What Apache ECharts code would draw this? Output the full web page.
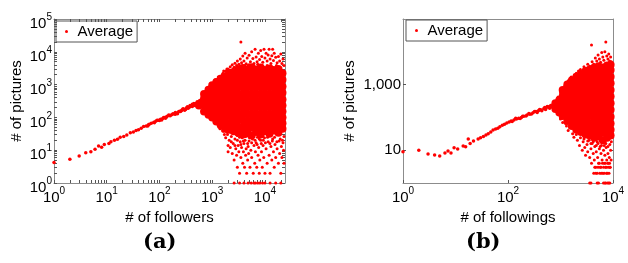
<!DOCTYPE html>
<html>
<head>
<meta charset="utf-8">
<script src="https://cdn.jsdelivr.net/npm/echarts@6/dist/echarts.min.js"></script>
<style>
  html, body { margin: 0; padding: 0; background: #fff; }
  #main { width: 628px; height: 263px; }
</style>
</head>
<body>
<div id="main"></div>
<script>
// (a) # of followers vs # of pictures
var followerTicks = [1, 10, 100, 1000, 10000];
var pictureTicksA = [1, 10, 100, 1000, 10000, 100000];
// (b) # of followings vs # of pictures
var followingTicks = [1, 100, 10000];
var pictureTicksB = [10, 1000];

// thin diagonal band, panel (a)
var followersTrend = [
  [1,4.2],[2,5.3],[3,6.6],[4,8.4],[5,9],[6,10.6],[7,13.4],[8,12.2],[9,15],[11,16],[12,18],[14,20],[16,21.5],
  [18,25],[21,26],[24,29],[28,34],[32,36],[36,40],[40,42],[45,47],[50,53],[56,55],[60,55],[62,60],[64,62],
  [70,66],[78,71],[80,69],[85,76],[90,82],[95,82],[100,80],[105,88],[115,92],[120,100],[125,99],[130,95],
  [140,108],[150,118],[155,115],[170,121],[180,130],[190,127],[200,125],[210,135],[230,148],[240,155],
  [260,160],[270,170],[290,176],[300,165],[320,185],[330,200],[360,200],[380,210],[400,225],[420,250],
  [450,240],[470,230],[500,270],[520,300],[560,290],[600,260],[610,340],[650,330],
  [110,84],[135,102],[160,112],[200,140],[220,130],[250,150],[280,185],[310,175],[340,210],[350,190],
  [380,230],[420,215],[450,265],[480,250],[520,240],[540,280],[580,320],[620,300]
];
// solid body of the cloud, panel (a)
var followersCore = [
  [560,230],[620,280],
  [700,150],[700,240],[700,380],[700,520],
  [850,120],[850,190],[850,300],[850,470],[850,700],
  [1000,100],[1000,160],[1000,250],[1000,400],[1000,640],[1000,950],
  [1200,75],[1200,120],[1200,190],[1200,300],[1200,480],[1200,760],[1200,1200],
  [1450,58],[1450,92],[1450,145],[1450,230],[1450,370],[1450,590],[1450,940],[1450,1500],
  [1750,45],[1750,72],[1750,115],[1750,180],[1750,290],[1750,460],[1750,730],[1750,1150],[1750,1800],
  [2100,42],[2100,68],[2100,110],[2100,175],[2100,280],[2100,450],[2100,700],[2100,1100],[2100,1700],[2100,2300],
  [2550,38],[2550,58],[2550,92],[2550,150],[2550,240],[2550,380],[2550,600],[2550,950],[2550,1500],[2550,2400],
  [3100,34],[3100,52],[3100,85],[3100,135],[3100,215],[3100,340],[3100,540],[3100,860],[3100,1350],[3100,2100],[3100,2900],
  [3800,30],[3800,50],[3800,80],[3800,128],[3800,205],[3800,330],[3800,520],[3800,830],[3800,1300],[3800,2050],[3800,3200],
  [4600,34],[4600,52],[4600,78],[4600,125],[4600,200],[4600,320],[4600,510],[4600,810],[4600,1280],[4600,2000],[4600,2900],
  [5600,28],[5600,48],[5600,80],[5600,128],[5600,205],[5600,330],[5600,520],[5600,830],[5600,1300],[5600,2050],[5600,3400],
  [6800,36],[6800,55],[6800,85],[6800,125],[6800,200],[6800,320],[6800,510],[6800,810],[6800,1280],[6800,2000],[6800,2900],
  [8300,30],[8300,50],[8300,80],[8300,128],[8300,205],[8300,330],[8300,520],[8300,830],[8300,1300],[8300,2050],[8300,3300],
  [10000,38],[10000,56],[10000,85],[10000,125],[10000,200],[10000,320],[10000,510],[10000,810],[10000,1280],[10000,2000],[10000,2800],
  [12200,32],[12200,50],[12200,80],[12200,128],[12200,205],[12200,330],[12200,520],[12200,830],[12200,1300],[12200,2050],[12200,3100],
  [14800,40],[14800,60],[14800,90],[14800,125],[14800,200],[14800,320],[14800,510],[14800,810],[14800,1280],[14800,2000],[14800,2800],
  [18000,34],[18000,52],[18000,85],[18000,135],[18000,215],[18000,340],[18000,540],[18000,860],[18000,1350],[18000,2100],[18000,3000],
  [21500,45],[21500,66],[21500,100],[21500,150],[21500,230],[21500,350],[21500,560],[21500,880],[21500,1400],[21500,2200]
];
// scattered fringe points, panel (a)
var followersSpread = [
  [550,300],[650,350],[700,200],[750,430],[800,170],[800,560],[900,140],[950,600],[1050,130],[1100,700],[1150,150],
  [650,160],[750,620],[800,110],[900,850],[950,90],[1050,1100],[1100,70],[1150,1400],[1300,60],[1300,1700],[1400,45],
  [1550,2000],[1600,38],[1650,2600],[1900,3000],[1950,30],
  [900,700],[1000,900],[1100,1100],[1200,1000],[1300,1400],[1400,1800],[1500,1500],[1600,2200],[1700,2000],[1800,2600],
  [1900,2300],[2000,3000],[2100,2600],[2200,3500],[2300,2800],[2400,4000],[2600,3400],[2700,4500],[2900,3800],[3000,5200],
  [3200,4200],[3400,6000],[3500,20000],[3600,4600],[3800,7500],[4000,5200],[4200,9000],[4400,4300],[4600,6500],[4800,3900],
  [5000,7800],[5300,5000],[5600,10000],[5900,6200],[6200,4400],[6500,12000],[6800,7000],[7100,5000],[7500,9000],[7900,5800],
  [8300,11000],[8700,7200],[9100,4800],[9600,12000],[10000,6500],[10500,9000],[11000,5200],[11500,8000],[12000,12000],
  [12500,6000],[13000,4400],[13500,7600],[14000,12000],[14500,5400],[15000,9000],[16000,6800],[17000,4600],[18000,7200],
  [19000,5200],[20000,8600],[21000,4400],[22000,6000],[23000,3800],
  [2500,3000],[3300,3600],[4100,3800],[5000,4000],[6000,3700],[7300,4200],[9000,3600],[11000,3800],[13500,3500],[16500,3800],[20000,3200],
  [1000,120],[1100,95],[1200,75],[1300,80],[1400,55],[1500,60],[1600,40],[1700,30],[1800,24],[1900,35],[2000,14],[2000,9],
  [2100,20],[2200,12],[2300,26],[2400,8],[2500,16],[2600,5],[2700,22],[2800,11],[2900,7],[3000,28],[3000,3],[3100,14],
  [3200,9],[3300,2],[3400,18],[3500,6],[3600,12],[3700,24],[3800,4],[3900,9],[4000,16],[4100,3],[4200,20],[4300,7],
  [4400,11],[4500,2],[4600,27],[4700,5],[4800,13],[4900,8],[5000,19],[5200,3],[5400,10],[5600,6],[5800,22],[6000,2],
  [6200,14],[6400,4],[6600,9],[6800,17],[7000,3],[7200,25],[7400,7],[7600,12],[7800,2],[8000,5],[8300,20],[8600,9],
  [8900,3],[9200,14],[9500,6],[9800,24],[10000,2],[10500,11],[11000,4],[11500,18],[12000,7],[12500,2],[13000,13],
  [13500,5],[14000,22],[14500,9],[15000,3],[15500,15],[16000,6],[17000,11],[18000,4],[18500,19],[19000,8],[20000,2],
  [20500,13],[21000,6],[22000,17],[22500,10],[23000,4],
  [2300,18],[2700,14],[3000,20],[3300,25],[3500,15],[3900,19],[4300,26],[4700,16],[5100,24],[5600,17],[6100,26],
  [6500,20],[7100,15],[7800,22],[8500,16],[9300,20],[10200,17],[11200,25],[12400,16],[13800,19],[15200,25],[16800,18],
  [19500,22],[21500,20],[23000,26],
  [2600,1],[3300,1],[4000,1],[4800,1],[5500,1],[6200,1],[6600,1],[7300,1],[8000,1],[9000,1],[10000,1],[12500,1],[16000,1],[20000,1]
];

// thin diagonal band, panel (b)
var followingsTrend = [
  [1,9],[2,10],[3,7.6],[4,7.1],[5,6.7],[6.3,8.2],[7.2,9.4],[8.2,8.2],[9.4,11.9],[11,10.8],[14,13.4],[15.6,12.8],
  [17.5,22],[19,16],[22,19],[27,22],[30,24],[34,26],[38,29],[42,32],[47,36],[52,41],[58,44],[64,47],[70,52],
  [78,58],[86,62],[95,68],[105,72],[115,78],[130,84],[145,90],[160,94],[180,100],[200,108],[230,118],[260,125],
  [300,138],[340,150],[380,160],[420,170],[480,185],[540,200],[600,210],
  [120,75],[140,95],[170,92],[190,108],[220,110],[250,132],[280,128],[320,150],[360,140],[400,175],[440,160],
  [500,200],[520,175],[560,215],[620,190],[650,230],[700,205],[720,245],[760,220],[800,260],[850,230]
];
// solid body of the cloud, panel (b)
var followingsCore = [
  [800,180],[800,270],
  [950,140],[950,220],[950,340],
  [1100,110],[1100,175],[1100,280],[1100,440],[1100,680],
  [1350,78],[1350,125],[1350,195],[1350,300],[1350,480],[1350,760],[1350,1000],
  [1650,55],[1650,90],[1650,145],[1650,230],[1650,370],[1650,590],[1650,940],[1650,1350],
  [2000,42],[2000,68],[2000,110],[2000,175],[2000,280],[2000,450],[2000,720],[2000,1150],[2000,1700],
  [2450,36],[2450,56],[2450,90],[2450,145],[2450,230],[2450,370],[2450,590],[2450,940],[2450,1500],[2450,2100],
  [3000,30],[3000,48],[3000,78],[3000,125],[3000,200],[3000,320],[3000,510],[3000,810],[3000,1300],[3000,2000],[3000,2600],
  [3600,28],[3600,44],[3600,68],[3600,110],[3600,175],[3600,280],[3600,450],[3600,720],[3600,1150],[3600,1800],[3600,2900],
  [4400,24],[4400,38],[4400,62],[4400,100],[4400,160],[4400,255],[4400,410],[4400,650],[4400,1050],[4400,1650],[4400,2500],[4400,3300],
  [5300,26],[5300,40],[5300,58],[5300,92],[5300,148],[5300,235],[5300,380],[5300,600],[5300,960],[5300,1500],[5300,2400],[5300,3600],
  [6400,20],[6400,34],[6400,55],[6400,88],[6400,140],[6400,225],[6400,360],[6400,580],[6400,920],[6400,1450],[6400,2300],[6400,3300],
  [7700,24],[7700,38],[7700,58],[7700,92],[7700,148],[7700,235],[7700,380],[7700,600],[7700,960],[7700,1500],[7700,2400],[7700,3800],
  [9000,28],[9000,42],[9000,65],[9000,105],[9000,170],[9000,270],[9000,430],[9000,690],[9000,1100],[9000,1750],[9000,2800],[9000,4000]
];
// scattered fringe points, panel (b)
var followingsSpread = [
  [900,420],[1000,560],[1000,95],[1200,900],[1250,65],[1400,1300],[1500,1150],[1600,1700],[1800,1500],[1850,2000],
  [2000,2200],[2200,2000],[2200,2600],[2400,2900],[2600,2500],[2800,3500],[3000,3000],
  [3300,4200],[3600,3600],[3900,16000],[4000,5000],[4300,4200],[4600,6500],[4900,5200],[5200,8000],[5500,6000],[5800,4800],
  [6100,9500],[6400,7000],[6700,5500],[7000,10000],[7300,20000],[7600,7500],[8000,6000],[8300,8500],[8600,5200],[9000,7000],[9300,5000],
  [1000,90],[1100,70],[1300,55],[1400,40],[1500,48],[1700,32],[1800,25],[2000,30],[2100,20],[2300,14],[2400,24],[2600,10],
  [2700,18],[2900,12],[3000,7],[3200,15],[3300,9],[3500,20],[3600,6],[3800,11],[3900,4],[4000,16],[4200,8],[4400,5],
  [4500,13],[4700,3],[4800,9],[5000,18],[5100,6],[5300,4],[5500,11],[5700,3],[5900,8],[6000,14],[6200,5],[6400,2],
  [6600,10],[6800,4],[7000,7],[7200,3],[7400,12],[7600,5],[7800,2],[8000,8],[8200,4],[8500,6],[8800,3],[9000,10],[9200,5],
  [2800,22],[3300,19],[3800,16],[4200,18],[4800,14],[5200,16],[5700,13],[6200,17],[6800,14],[7300,16],[8000,13],[8700,15],[9300,18],
  [4300,2],[4700,2],[5000,2],[5600,2],[6000,2],[6800,2],[7500,2],[8400,2],
  [4500,3],[5200,3],[5900,3],[6600,3],[7400,3],[8100,3],[8800,3],
  [5500,4],[6300,4],[7100,4],[7900,4],[8600,4],
  [3600,1],[3800,1],[5000,1],[5300,1],[6600,1],[7000,1],[7300,1],[7900,1],[8300,1],[8700,1]
];

var FONT = 'Liberation Sans';
var RED = '#ff0000';
var FRAME = '#8c8c8c';

function minorTicks(lo, hi) {
  var out = [];
  for (var k = 0; k <= 5; k++) {
    for (var m = 1; m <= 9; m++) {
      var v = m * Math.pow(10, k);
      if (v >= lo && v <= hi) out.push(v);
    }
  }
  return out;
}

function powLabel(v) {
  return '{b|10}{s|' + Math.round(Math.log10(v)) + '}';
}

// base digits low in a tall line, exponent pinned to its top
var powRich = {
  b: { fontSize: 15, fontFamily: FONT, color: '#000', lineHeight: 19, verticalAlign: 'bottom' },
  s: { fontSize: 10, fontFamily: FONT, color: '#000', lineHeight: 10, verticalAlign: 'top' }
};

function logAxis(opt) {
  return Object.assign({
    type: 'log',
    logBase: 10,
    axisLine: { show: true, lineStyle: { color: FRAME, width: 1 } },
    axisTick: { show: true, inside: true, length: 3, lineStyle: { color: '#555' } },
    axisLabel: { show: false },
    splitLine: { show: false },
    nameTextStyle: { fontSize: 15, fontFamily: FONT, color: '#000' }
  }, opt);
}

function dots(data, size, xi, yi) {
  return {
    name: 'Average',
    type: 'scatter',
    xAxisIndex: xi,
    yAxisIndex: yi,
    data: data,
    symbol: 'circle',
    symbolSize: size,
    itemStyle: { color: RED, opacity: 1 },
    clip: false,
    silent: true
  };
}

var legendBase = {
  data: ['Average'],
  orient: 'horizontal',
  icon: 'circle',
  itemWidth: 12,
  itemHeight: 3,
  borderColor: '#555',
  borderWidth: 1,
  padding: [3, 4, 3, 9],
  textStyle: { fontSize: 15, fontFamily: FONT, color: '#000' },
  selectedMode: false
};

var chart = echarts.init(document.getElementById('main'));
chart.setOption({
  animation: false,
  backgroundColor: '#fff',
  grid: [
    { left: 54, top: 19, width: 231, height: 164 },
    { left: 403, top: 19, width: 210, height: 164 }
  ],
  legend: [
    Object.assign({ left: 56, top: 21 }, legendBase),
    Object.assign({ left: 406, top: 20 }, legendBase)
  ],
  xAxis: [
    logAxis({
      gridIndex: 0, position: 'bottom', min: 1, max: 24000,
      axisTick: { show: true, inside: true, length: 3, customValues: minorTicks(1, 24000), lineStyle: { color: '#555' } },
      axisLabel: { show: true, customValues: followerTicks, formatter: powLabel, rich: powRich, margin: 3 },
      name: '# of followers', nameLocation: 'middle', nameGap: 23
    }),
    logAxis({
      gridIndex: 0, position: 'top', min: 1, max: 24000,
      axisTick: { show: true, inside: true, length: 3, customValues: minorTicks(1, 24000), lineStyle: { color: '#555' } }
    }),
    logAxis({
      gridIndex: 1, position: 'bottom', min: 1, max: 10000,
      axisTick: { show: true, inside: true, length: 3, customValues: followingTicks, lineStyle: { color: '#555' } },
      axisLabel: { show: true, customValues: followingTicks, formatter: powLabel, rich: powRich, margin: 3 },
      name: '# of followings', nameLocation: 'middle', nameGap: 23
    }),
    logAxis({
      gridIndex: 1, position: 'top', min: 1, max: 10000,
      axisTick: { show: false }
    })
  ],
  yAxis: [
    logAxis({
      gridIndex: 0, position: 'left', min: 1, max: 100000,
      axisTick: { show: true, inside: true, length: 3, customValues: minorTicks(1, 100000), lineStyle: { color: '#555' } },
      axisLabel: { show: true, customValues: pictureTicksA, formatter: powLabel, rich: powRich, margin: 2, padding: [6, 0, 0, 0] },
      name: '# of pictures', nameLocation: 'middle', nameGap: 30
    }),
    logAxis({
      gridIndex: 0, position: 'right', min: 1, max: 100000,
      axisTick: { show: true, inside: true, length: 3, customValues: minorTicks(1, 100000), lineStyle: { color: '#555' } }
    }),
    logAxis({
      gridIndex: 1, position: 'left', min: 1, max: 100000,
      axisTick: { show: true, inside: true, length: 3, customValues: pictureTicksB, lineStyle: { color: '#555' } },
      axisLabel: {
        show: true, customValues: pictureTicksB, margin: 2,
        fontSize: 15, fontFamily: FONT, color: '#000',
        formatter: function (v) { return v === 1000 ? '1,000' : String(v); }
      },
      name: '# of pictures', nameLocation: 'middle', nameGap: 46
    }),
    logAxis({
      gridIndex: 1, position: 'right', min: 1, max: 100000,
      axisTick: { show: true, inside: true, length: 3, customValues: pictureTicksB, lineStyle: { color: '#555' } }
    })
  ],
  graphic: [
    { type: 'text', left: 143, top: 232, style: { text: '(a)', fontSize: 21, fontWeight: 'bold', fontFamily: 'DejaVu Serif', fill: '#000' } },
    { type: 'text', left: 466, top: 232, style: { text: '(b)', fontSize: 21, fontWeight: 'bold', fontFamily: 'DejaVu Serif', fill: '#000' } }
  ],
  series: [
    dots(followersTrend, 3.5, 0, 0),
    dots(followersCore, 8, 0, 0),
    dots(followersSpread, 3, 0, 0),
    dots(followingsTrend, 3.5, 2, 2),
    dots(followingsCore, 8, 2, 2),
    dots(followingsSpread, 3, 2, 2)
  ]
});
</script>
</body>
</html>
